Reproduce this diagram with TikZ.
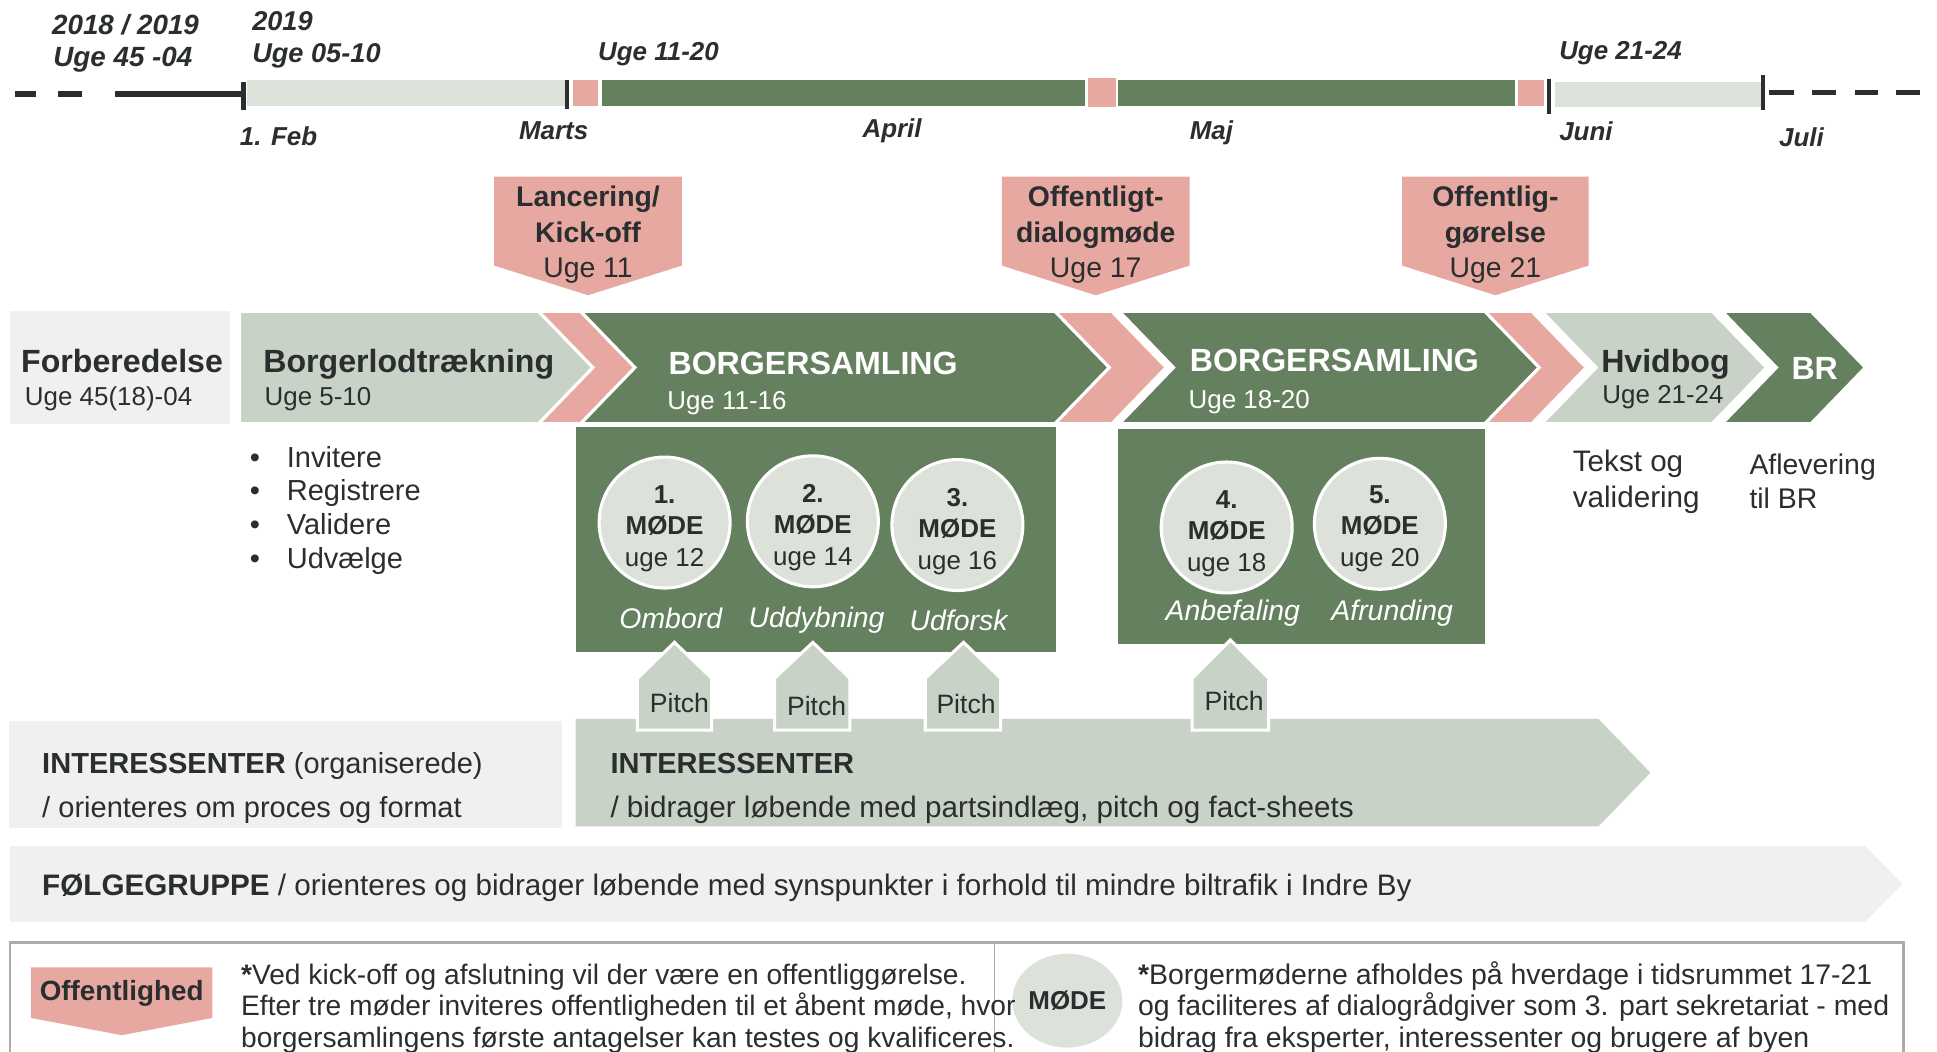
\documentclass[tikz,border=0pt]{standalone}
\usepackage{fontspec}
\setmainfont{Liberation Sans}
\usetikzlibrary{positioning, shapes.geometric}

\definecolor{sage}{HTML}{65805F}
\definecolor{rose}{HTML}{E7A8A2}
\definecolor{mist}{HTML}{C9D2C7}
\definecolor{pale}{HTML}{DCE1DA}
\definecolor{fog}{HTML}{F0F0F0}
\definecolor{ink}{HTML}{2A2E2E}
\definecolor{frame}{HTML}{ABABAB}

\tikzstyle{when} = [
    inner sep=0,
    anchor=west,
    text depth=0pt,
    text=ink,
    font=\bfseries\itshape\fontsize{21}{24}\selectfont
]
\tikzstyle{phase} = [draw=white, line width=2.5]
\tikzstyle{title} = [
    inner sep=0,
    anchor=west,
    text depth=0pt,
    text=ink,
    font=\bfseries\fontsize{26}{30}\selectfont
]
\tikzstyle{weeks} = [
    inner sep=0,
    anchor=west,
    text depth=0pt,
    text=ink,
    font=\fontsize{21}{24}\selectfont
]
\tikzstyle{callout} = [
    inner sep=0,
    align=center,
    text=ink,
    font=\fontsize{23}{28.5}\selectfont
]
\tikzstyle{meeting} = [
    circle,
    fill=pale,
    draw=white,
    line width=2.5,
    minimum size=106,
    inner sep=0
]
\tikzstyle{meettxt} = [
    inner sep=0,
    align=center,
    text=ink,
    font=\fontsize{21}{25.5}\selectfont
]
\tikzstyle{theme} = [
    inner sep=0,
    text depth=0pt,
    text=white,
    font=\itshape\fontsize{23}{26}\selectfont
]
\tikzstyle{pitchbox} = [draw=white, line width=2.5, fill=mist]
\tikzstyle{body} = [
    inner sep=0,
    anchor=west,
    text depth=0pt,
    text=ink,
    font=\fontsize{23.5}{27.3}\selectfont
]
\tikzstyle{note} = [
    inner sep=0,
    anchor=north west,
    align=left,
    text=ink,
    font=\fontsize{23}{25.5}\selectfont
]

\begin{document}
\begin{tikzpicture}[x=1pt, y=-1pt]
\useasboundingbox (0,0) rectangle (1568,851);
\clip (0,0) rectangle (1568,851);

% Timeline
\draw[ink, line width=4.5] (12,76) -- (29,76) (47,76) -- (66,76) (93,76) -- (197,76);
\fill[pale] (200,65) rectangle (457,86);
\fill[rose] (464,65) rectangle (484,86);
\fill[sage] (487,65) rectangle (878,86);
\fill[rose] (881,63) rectangle (903,87);
\fill[sage] (905,65) rectangle (1226,86);
\fill[rose] (1229,65) rectangle (1250,86);
\fill[pale] (1259,66) rectangle (1426,87);
\draw[ink, line width=4.5] (1432,75) -- (1452,75) (1467,75) -- (1486,75) (1502,75) -- (1520,75) (1535,75) -- (1554,75);
\draw[ink, line width=3.5] (197,66) -- (197,89) (459,65) -- (459,88) (1254,64) -- (1254,92) (1427,61) -- (1427,89);

\node (y1819) [when, font=\bfseries\itshape\fontsize{22.5}{24}\selectfont] at (42,20) {2018 / 2019};
\node (w4504) [when, font=\bfseries\itshape\fontsize{22.5}{24}\selectfont] at (43,46) {Uge 45 -04};
\node (y19) [when, font=\bfseries\itshape\fontsize{22}{24}\selectfont] at (204,17) {2019};
\node (w0510) [when, font=\bfseries\itshape\fontsize{22}{24}\selectfont] at (204,43) {Uge 05-10};
\node (w1120) [when] at (484,42) {Uge 11-20};
\node (w2124) [when] at (1262,41) {Uge 21-24};
\node (feb) [when] at (194,110) {1. Feb};
\node (marts) [when] at (420,106) {Marts};
\node (april) [when] at (698,104) {April};
\node (maj) [when] at (963,105) {Maj};
\node (juni) [when] at (1262,106) {Juni};
\node (juli) [when] at (1440,111) {Juli};

% Callouts
\path[fill=rose] (400,143) -- (552,143) -- (552,215) -- (476,239) -- (400,215) -- cycle;
\path[fill=rose] (811,143) -- (963,143) -- (963,215) -- (887,239) -- (811,215) -- cycle;
\path[fill=rose] (1135,143) -- (1286,143) -- (1286,215) -- (1210.5,239) -- (1135,215) -- cycle;
\node (kickoff) [callout] at (476,190) {\textbf{Lancering/}\\\textbf{Kick-off}\\Uge 11};
\node (dialog) [callout] at (887,190) {\textbf{Offentligt-}\\\textbf{dialogmøde}\\Uge 17};
\node (publish) [callout] at (1210.5,190) {\textbf{Offentlig-}\\\textbf{gørelse}\\Uge 21};

% Phases
\fill[fog] (8,252) rectangle (186,343);
\path[phase, fill=mist] (194,252) -- (436,252) -- (480,297.5) -- (436,343) -- (194,343) -- cycle;
\path[phase, fill=rose] (436,252) -- (470,252) -- (514,297.5) -- (470,343) -- (436,343) -- (480,297.5) -- cycle;
\path[phase, fill=sage] (470,252) -- (854,252) -- (898,297.5) -- (854,343) -- (470,343) -- (514,297.5) -- cycle;
\path[phase, fill=rose] (854,252) -- (900,252) -- (944,297.5) -- (900,343) -- (854,343) -- (898,297.5) -- cycle;
\path[phase, fill=sage] (906,252) -- (1202,252) -- (1246,297.5) -- (1202,343) -- (906,343) -- (950,297.5) -- cycle;
\path[phase, fill=rose] (1202,252) -- (1240,252) -- (1284,297.5) -- (1240,343) -- (1202,343) -- (1246,297.5) -- cycle;
\path[phase, fill=mist] (1248,252) -- (1386,252) -- (1430,297.5) -- (1386,343) -- (1248,343) -- (1292,297.5) -- cycle;
\path[phase, fill=sage] (1394,252) -- (1466,252) -- (1510,297.5) -- (1466,343) -- (1394,343) -- (1438,297.5) -- cycle;

\node (prep) [title] at (17,292) {Forberedelse};
\node (prepw) [weeks] at (20,321) {Uge 45(18)-04};
\node (lot) [title] at (213,292) {Borgerlodtrækning};
\node (lotw) [weeks] at (214,321) {Uge 5-10};
\node (bs1) [title, text=white] at (541,294) {BORGERSAMLING};
\node (bs1w) [weeks, text=white] at (540,324) {Uge 11-16};
\node (bs2) [title, text=white] at (963,292) {BORGERSAMLING};
\node (bs2w) [weeks, text=white] at (962,323) {Uge 18-20};
\node (white) [title] at (1296,292) {Hvidbog};
\node (whitew) [weeks] at (1297,319) {Uge 21-24};
\node (br) [title, text=white] at (1450,298) {BR};

\node (tasks) [body, anchor=north west, align=left, text depth=] at (202,361) {\makebox[30pt][l]{\textbullet}Invitere\\\makebox[30pt][l]{\textbullet}Registrere\\\makebox[30pt][l]{\textbullet}Validere\\\makebox[30pt][l]{\textbullet}Udvælge};
\node (text) [body, anchor=north west, align=left, text depth=, font=\fontsize{24}{29}\selectfont] at (1273,364) {Tekst og\\validering};
\node (hand) [body, anchor=north west, align=left, text depth=, font=\fontsize{23}{28}\selectfont] at (1416,367) {Aflevering\\til BR};

% Meetings
\fill[sage] (466,346) rectangle (855,528);
\fill[sage] (905,347) rectangle (1202,521);
\node (m1) [meeting] at (538,423) {};
\node (m2) [meeting] at (658,422) {};
\node (m3) [meeting] at (775,425) {};
\node (m4) [meeting] at (993,427) {};
\node (m5) [meeting] at (1117,424) {};
\node (m1txt) [meettxt] at ([yshift=-5pt]m1.center) {\textbf{1.}\\\textbf{MØDE}\\uge 12};
\node (m2txt) [meettxt] at ([yshift=-5pt]m2.center) {\textbf{2.}\\\textbf{MØDE}\\uge 14};
\node (m3txt) [meettxt] at ([yshift=-5pt]m3.center) {\textbf{3.}\\\textbf{MØDE}\\uge 16};
\node (m4txt) [meettxt] at ([yshift=-5pt]m4.center) {\textbf{4.}\\\textbf{MØDE}\\uge 18};
\node (m5txt) [meettxt] at ([yshift=-4pt]m5.center) {\textbf{5.}\\\textbf{MØDE}\\uge 20};
\node (t1) [theme, below=15pt of m1, xshift=5pt] {Ombord};
\node (t2) [theme, below=15pt of m2, xshift=3pt] {Uddybning};
\node (t3) [theme, below=14pt of m3, xshift=1pt] {Udforsk};
\node (t4) [theme, below=4pt of m4, xshift=5pt] {Anbefaling};
\node (t5) [theme, below=7pt of m5, xshift=10pt] {Afrunding};

% Stakeholders
\fill[fog] (7,584) rectangle (455,670);
\fill[mist] (466,582) -- (1294,582) -- (1336,625.5) -- (1294,669) -- (466,669) -- cycle;
\fill[fog] (8,685) -- (1510,685) -- (1540,715.5) -- (1510,746) -- (8,746) -- cycle;

\path[pitchbox] (516,591) -- (516,549) -- (546,520) -- (576,549) -- (576,591) -- cycle;
\path[pitchbox] (627,591) -- (627,549) -- (658,520) -- (688,549) -- (688,591) -- cycle;
\path[pitchbox] (749,591) -- (749,549) -- (780,520) -- (810,549) -- (810,591) -- cycle;
\path[pitchbox] (965,591) -- (965,549) -- (996,518) -- (1027,549) -- (1027,591) -- cycle;
\node (p1) [body, anchor=center, font=\fontsize{21.5}{24}\selectfont] at (550,569) {Pitch};
\node (p2) [body, anchor=center, font=\fontsize{21.5}{24}\selectfont] at (661,571) {Pitch};
\node (p3) [body, anchor=center, font=\fontsize{21.5}{24}\selectfont] at (782,570) {Pitch};
\node (p4) [body, anchor=center, font=\fontsize{21.5}{24}\selectfont] at (999,567) {Pitch};

\node (org) [body] at (34,618) {\textbf{INTERESSENTER} (organiserede)};
\node (orgw) [body] at (34,653) {/ orienteres om proces og format};
\node (ints) [body] at (494,618) {\textbf{INTERESSENTER}};
\node (intsw) [body, font=\fontsize{24}{27.3}\selectfont] at (494,653) {/ bidrager løbende med partsindlæg, pitch og fact-sheets};
\node (follow) [body, font=\fontsize{24}{27.3}\selectfont] at (34,716) {\textbf{FØLGEGRUPPE} / orienteres og bidrager løbende med synspunkter i forhold til mindre biltrafik i Indre By};

% Legend
\draw[frame, line width=2] (8,763) rectangle (1541,880);
\draw[frame, line width=1.5] (805,763) -- (805,880);
\path[fill=rose] (25,783) -- (172,783) -- (172,824) -- (98.5,838) -- (25,824) -- cycle;
\node (pub) [body, anchor=center, font=\bfseries\fontsize{22.5}{25}\selectfont] at (98.5,802) {Offentlighed};
\node (mode) [ellipse, fill=pale, minimum width=86, minimum height=76, inner sep=0, text=ink, font=\bfseries\fontsize{21}{24}\selectfont] at (864,810) {MØDE};
\node (pubnote) [note, font=\fontsize{22.8}{25.5}\selectfont] at (195,780) {\textbf{*}Ved kick-off og afslutning vil der være en offentliggørelse.\\Efter tre møder inviteres offentligheden til et åbent møde, hvor\\borgersamlingens første antagelser kan testes og kvalificeres.};
\node (modenote) [note] at (921,778) {\textbf{*}Borgermøderne afholdes på hverdage i tidsrummet 17-21\\og faciliteres af dialogrådgiver som 3. part sekretariat - med\\bidrag fra eksperter, interessenter og brugere af byen};

\end{tikzpicture}
\end{document}
